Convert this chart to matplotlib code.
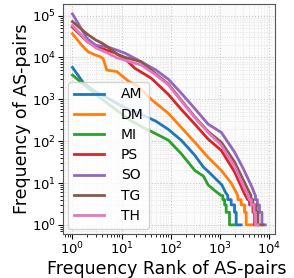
import matplotlib
matplotlib.use("Agg")
import matplotlib.pyplot as plt

labels = ['AM', 'DM', 'MI', 'PS', 'SO', 'TG', 'TH']
colors = ['#1f77b4', '#ff7f0e', '#2ca02c', '#d62728', '#9467bd', '#8c564b', '#e377c2']

# rank / frequency pairs (tail keeps the integer steps)
am_rank = [1, 1.7, 3, 5, 8, 15, 25, 50, 90, 164, 309, 463, 577, 800, 1100, 1300, 1450, 1450,
           1700, 1700, 1990, 1990, 2150, 2150, 2720]
am_freq = [5800, 2400, 1500, 1100, 800, 550, 440, 300, 190, 105, 46, 24, 19, 13, 9, 6, 5, 4,
           4, 3, 3, 2, 2, 1, 1]

dm_rank = [1, 1.55, 2.1, 2.9, 3.6, 4.2, 5, 8, 13.9, 22, 40, 90, 164, 309, 577, 1070, 1700,
           2330, 2330, 2720, 2720, 3180, 3180, 3440, 3440, 4710]
dm_freq = [37000, 19500, 13600, 11500, 10500, 9500, 5000, 4600, 2700, 2000, 1000, 460, 213, 94,
           41, 20, 10, 5, 4, 4, 3, 3, 2, 2, 1, 1]

mi_rank = [1, 1.6, 3, 6, 10, 16, 26, 50, 90, 164, 309, 463, 577, 800, 1070, 1150, 1150, 1250,
           1250, 1345, 1345, 1570, 1570, 1990]
mi_freq = [3800, 2400, 1300, 700, 450, 300, 220, 150, 105, 50, 20, 14.6, 9, 6.5, 5, 5, 4, 4,
           3, 3, 2, 2, 1, 1]

ps_rank = [1, 2, 3, 5, 7.7, 12, 18.7, 40, 90, 164, 309, 577, 1070, 1990, 3180, 3700, 3700,
           4020, 4020, 4710, 4710, 5090, 5090, 5770]
ps_freq = [53000, 24000, 18000, 15000, 12600, 9000, 5500, 3200, 1300, 575, 255, 112, 60, 18.5,
           5.5, 4, 4, 4, 3, 3, 2, 2, 1, 1]

so_rank = [1, 2, 3, 5, 8, 12, 25, 50, 90, 164, 309, 577, 1070, 1990, 3000, 3720, 4500, 5100,
           5300, 5300, 5800, 5800, 6400, 6400, 7190, 7190, 8400]
so_freq = [110000, 28000, 19500, 18000, 15000, 12500, 7900, 5000, 3000, 1400, 600, 255, 162,
           55, 22, 12.8, 8, 5.5, 5, 4, 4, 3, 3, 2, 2, 1, 1]

tg_rank = [1, 2, 3, 4, 6, 8, 12, 25, 50, 90, 164, 309, 577, 1070, 1990, 3720, 4300, 4300,
           4710, 4710, 5520, 5520, 5970, 5970, 7550]
tg_freq = [72000, 36000, 26000, 22000, 16000, 12000, 10000, 7900, 4000, 2300, 950, 380, 170,
           94, 32, 7, 5, 4, 4, 3, 3, 2, 2, 1, 1]

th_rank = [1, 2, 3, 5, 7.7, 12, 25, 50, 90, 164, 309, 577, 1070, 1990, 3720, 4000, 4000, 4350,
           4350, 4960, 4960, 5300, 5300, 5970]
th_freq = [58000, 24000, 17000, 13000, 10000, 8500, 6600, 3800, 2200, 910, 365, 162, 80, 25,
           5, 4, 4, 4, 3, 3, 2, 2, 1, 1]

ranks = [am_rank, dm_rank, mi_rank, ps_rank, so_rank, tg_rank, th_rank]
freqs = [am_freq, dm_freq, mi_freq, ps_freq, so_freq, tg_freq, th_freq]

fig = plt.figure(figsize=(2.94, 2.78), dpi=100)
ax = fig.add_axes([0.213, 0.158, 0.722, 0.828])

for r, f, lab, c in zip(ranks, freqs, labels, colors):
    ax.plot(r, f, color=c, lw=2, label=lab)

ax.set_xscale('log')
ax.set_yscale('log')
ax.set_xlim(10**-0.2, 10**4.12)
ax.set_ylim(10**-0.22, 10**5.28)
ax.set_xticks([1, 10, 100, 1000, 10000])
ax.set_yticks([1, 10, 100, 1000, 10000, 100000])

ax.set_facecolor('#fbfbfb')
ax.grid(True, which='major', ls=':', color='#c8c8c8', lw=0.8)
ax.grid(True, which='minor', ls=':', color='#e0e0e0', lw=0.6)
for s in ax.spines.values():
    s.set_color('#555555')
ax.tick_params(labelsize=9.5, colors='black', pad=1)

ax.set_xlabel('Frequency Rank of AS-pairs', fontsize=12.5, va='bottom')
ax.xaxis.set_label_coords(0.567, 0.0, transform=fig.transFigure)
ax.set_ylabel('Frequency of AS-pairs', fontsize=12.5, labelpad=1)

ax.legend(loc='lower left', fontsize=10, handlelength=2.2, borderaxespad=0.4,
          labelspacing=0.45, handletextpad=1.2)

fig.savefig('out.png', dpi=100)
